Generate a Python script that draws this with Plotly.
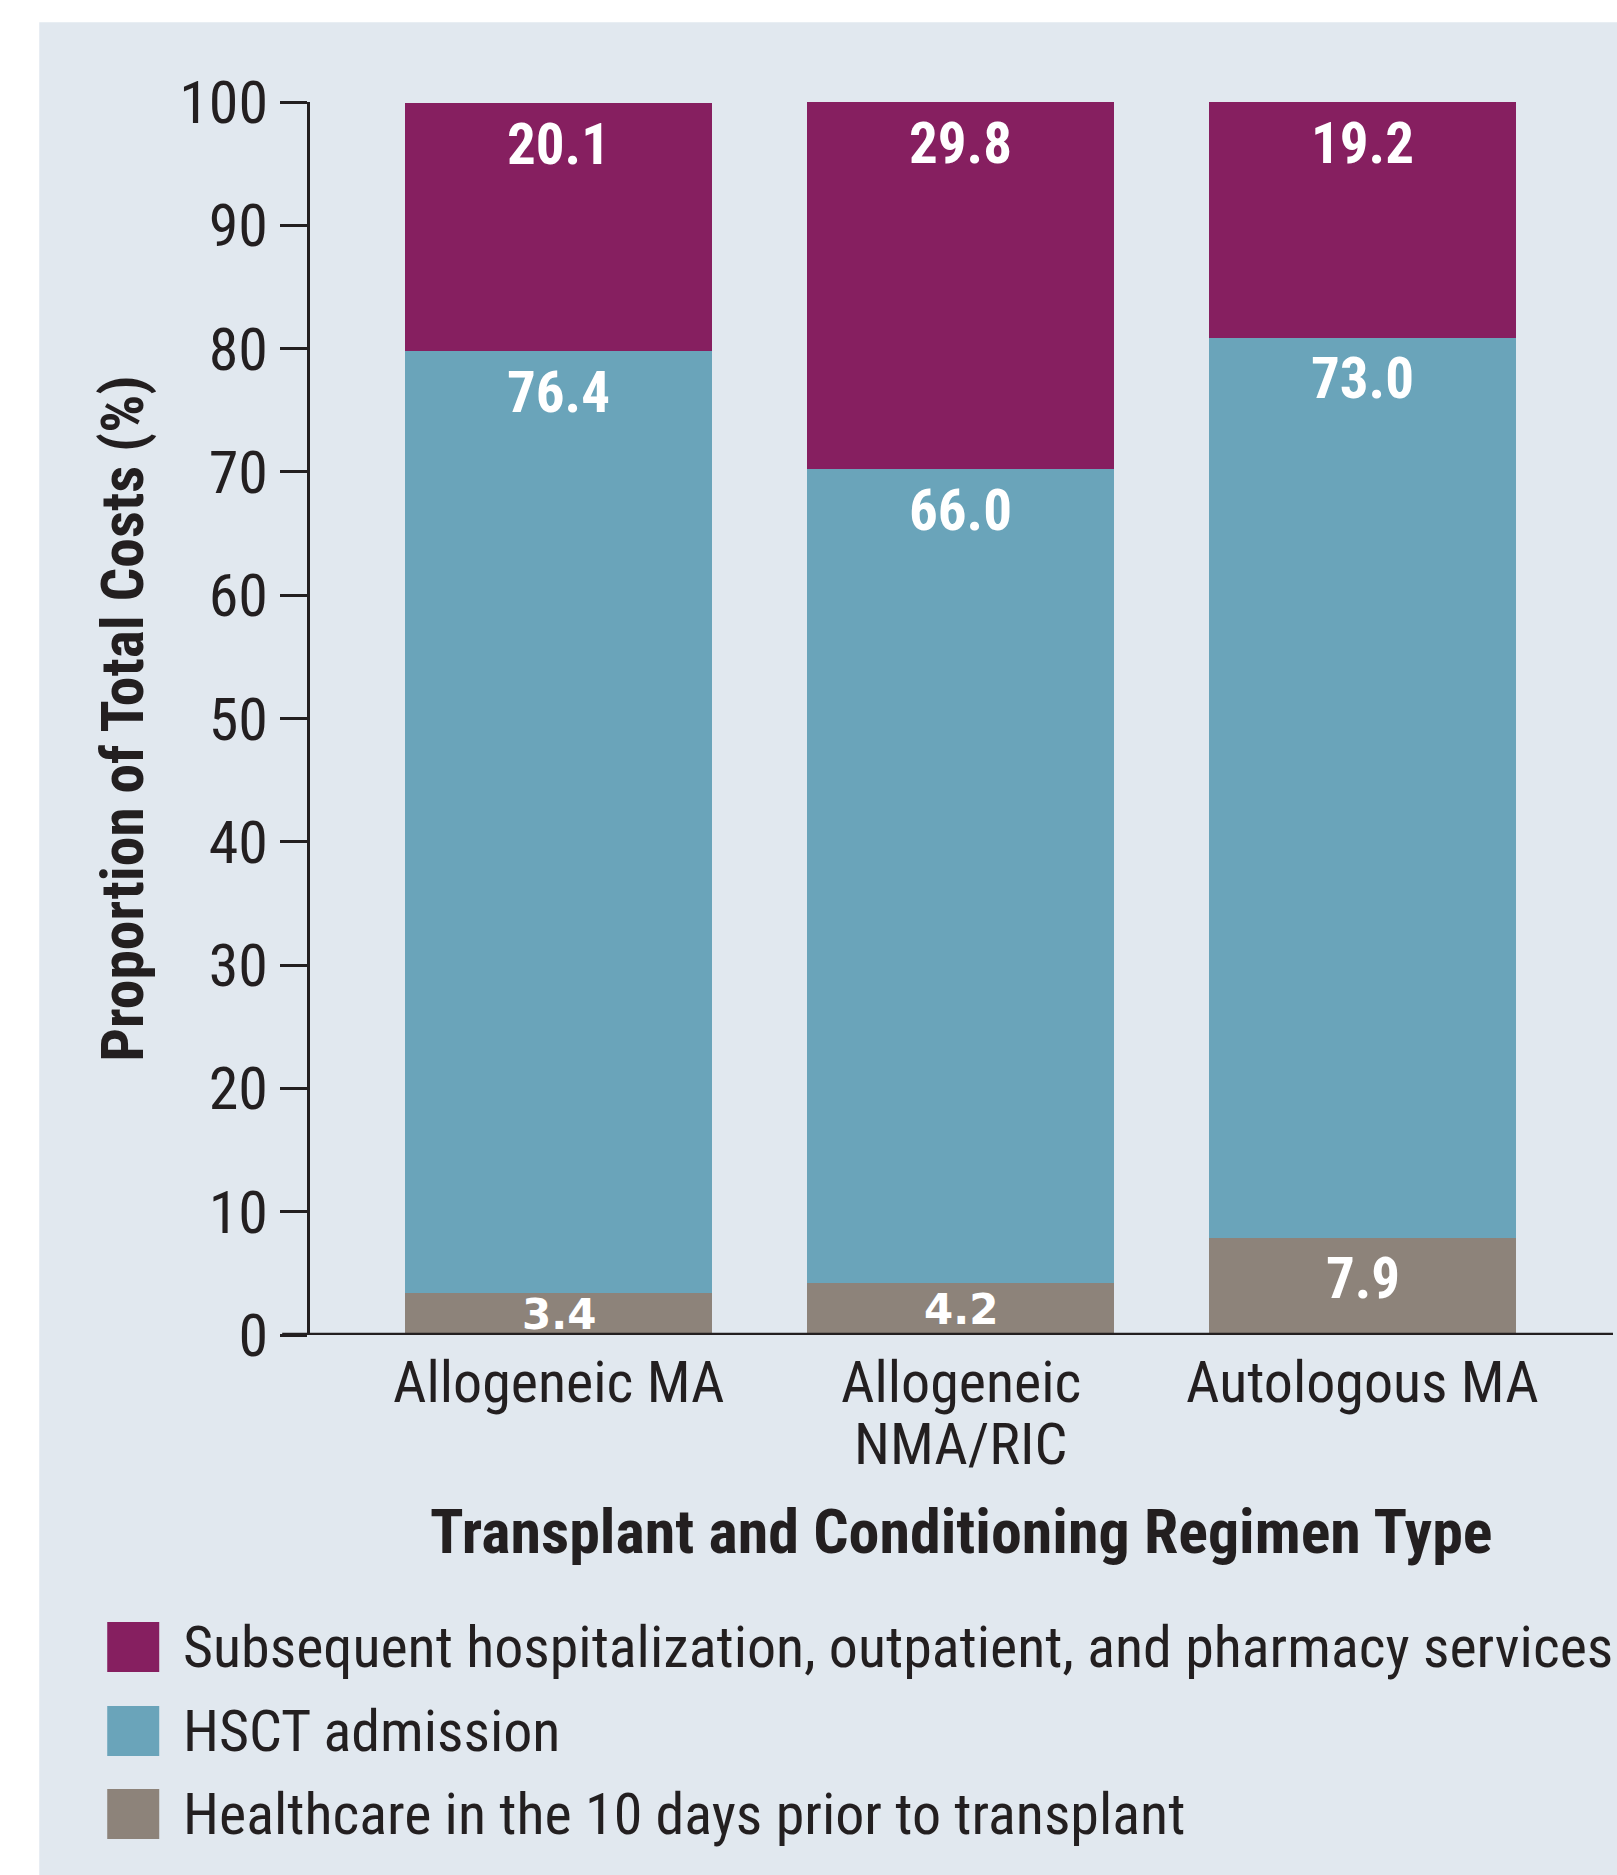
import plotly.graph_objects as go

# ---------------- data ----------------
categories = ["Allogeneic MA", "Allogeneic NMA/RIC", "Autologous MA"]
category_lines = [["Allogeneic MA"], ["Allogeneic", "NMA/RIC"], ["Autologous MA"]]
prior_10_days = [3.4, 4.2, 7.9]
hsct_admission = [76.4, 66.0, 73.0]
subsequent_services = [20.1, 29.8, 19.2]
series_names = [
    "Healthcare in the 10 days prior to transplant",
    "HSCT admission",
    "Subsequent hospitalization, outpatient, and pharmacy services",
]
y_ticks = [0, 10, 20, 30, 40, 50, 60, 70, 80, 90, 100]
y_title = "Proportion of Total Costs (%)"
x_title = "Transplant and Conditioning Regimen Type"

# ---------------- style ----------------
COL_PRIOR = "#8D837A"
COL_HSCT = "#6AA4BA"
COL_SUB = "#861F60"
PANEL = "#E1E8EF"
INK = "#231F20"
NARROW = "Roboto Condensed, Liberation Sans Narrow, DejaVu Sans Condensed, sans-serif"

W, H = 1617, 1875
L, R, T, B = 309.8, 1613.0, 101.7, 1335.0


def px_x(p):
    return (p - L) / (R - L)


def px_y(p):
    return (B - p) / (B - T)


series = [
    (series_names[0], prior_10_days, COL_PRIOR),
    (series_names[1], hsct_admission, COL_HSCT),
    (series_names[2], subsequent_services, COL_SUB),
]

fig = go.Figure()
for name, vals, col in series:
    fig.add_trace(go.Bar(
        x=categories, y=vals, name=name,
        marker=dict(color=col, line=dict(width=0)),
        showlegend=False, hoverinfo="x+y+name",
    ))

annotations = []
shapes = []

# value labels
bottoms = [0.0] * len(categories)
for name, vals, col in series:
    for i, v in enumerate(vals):
        b = bottoms[i]
        t = b + v
        if v < 5:
            annotations.append(dict(
                x=categories[i], y=(b + t) / 2, xref="x", yref="y",
                text=f"<b>{v:.1f}</b>", showarrow=False, yanchor="middle",
                font=dict(family="DejaVu Sans, sans-serif", size=42, color="white"),
            ))
        else:
            annotations.append(dict(
                x=categories[i], y=min(t, 100), xref="x", yref="y",
                text=f"<b>{v:.1f}</b>", showarrow=False, yanchor="middle", yshift=-41,
                font=dict(family=NARROW, size=57, color="white"),
            ))
        bottoms[i] = t

# category labels
for i, lines in enumerate(category_lines):
    for j, line in enumerate(lines):
        annotations.append(dict(
            x=categories[i], y=0, xref="x", yref="y", text=line, showarrow=False,
            yanchor="middle", yshift=-47 - 62 * j,
            font=dict(family=NARROW, size=58, color=INK),
        ))

# axis titles
annotations.append(dict(
    x=0, y=0.5, xref="paper", yref="paper", text=f"<b>{y_title}</b>", textangle=-90,
    showarrow=False, xanchor="center", yanchor="middle", xshift=122 - L,
    font=dict(family=NARROW, size=59.5, color=INK),
))
annotations.append(dict(
    x=0.5, y=0, xref="paper", yref="paper", text=f"<b>{x_title}</b>",
    showarrow=False, xanchor="center", yanchor="middle", yshift=-(1531 - B),
    font=dict(family=NARROW, size=62, color=INK),
))

# panel background
shapes.append(dict(type="rect", xref="paper", yref="paper",
                   x0=px_x(39), x1=px_x(W + 5), y0=px_y(22), y1=px_y(H + 5),
                   fillcolor=PANEL, line=dict(width=0), layer="below"))
# x baseline extending left past the y axis
shapes.append(dict(type="line", xref="paper", yref="y",
                   x0=px_x(282), x1=1.0, y0=0, y1=0,
                   line=dict(color=INK, width=4.5), layer="above"))

# custom legend (top to bottom: subsequent, HSCT, prior)
legend_rows = [(series_names[2], COL_SUB, 1622), (series_names[1], COL_HSCT, 1706),
               (series_names[0], COL_PRIOR, 1789)]
for name, col, top in legend_rows:
    shapes.append(dict(type="rect", xref="paper", yref="paper",
                       x0=px_x(107), x1=px_x(159), y0=px_y(top), y1=px_y(top + 50),
                       fillcolor=col, line=dict(width=0), layer="above"))
    annotations.append(dict(
        x=px_x(181), y=px_y(top + 25), xref="paper", yref="paper", text=name,
        showarrow=False, xanchor="left", yanchor="middle",
        font=dict(family=NARROW, size=58, color=INK),
    ))

fig.update_layout(
    width=W, height=H,
    margin=dict(l=L, r=W - R, t=T, b=H - B, pad=0),
    barmode="stack", bargap=0.237,
    paper_bgcolor="white", plot_bgcolor="rgba(0,0,0,0)",
    font=dict(family=NARROW, color=INK),
    xaxis=dict(
        type="category", range=[-0.619, 2.623], showticklabels=False,
        showgrid=False, zeroline=False, showline=False, ticks="", fixedrange=True,
    ),
    yaxis=dict(
        range=[0, 100], tickvals=y_ticks, ticktext=[str(v) for v in y_ticks],
        showgrid=False, zeroline=False, showline=True, linecolor=INK, linewidth=3,
        ticks="outside", ticklen=27, tickwidth=3, tickcolor=INK,
        tickfont=dict(family=NARROW, size=60, color=INK), ticklabelstandoff=0,
        fixedrange=True,
    ),
    shapes=shapes, annotations=annotations, showlegend=False,
)

fig.write_html("out.html", config={"displayModeBar": False},
               post_script="document.body.style.margin='0';")
